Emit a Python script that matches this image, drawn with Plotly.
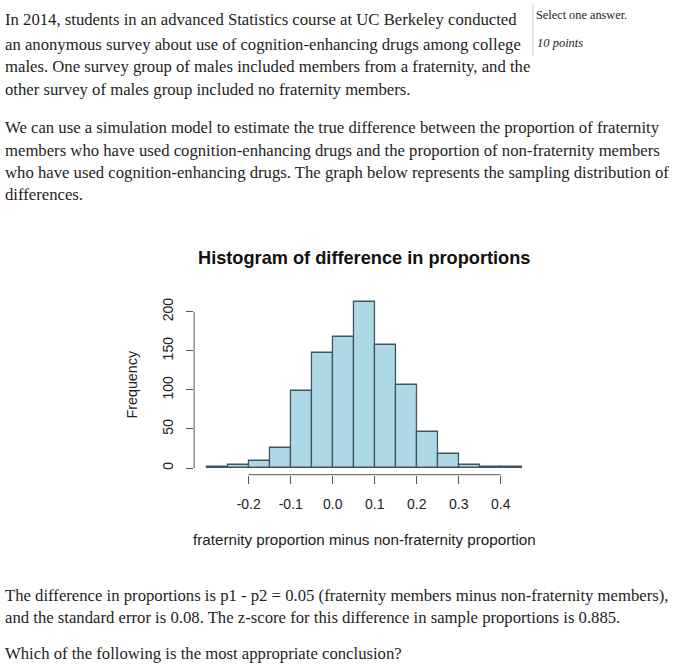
import plotly.graph_objects as go

W, H = 700, 670

# ---- data ----
bin_starts = [-0.30, -0.25, -0.20, -0.15, -0.10, -0.05, 0.00, 0.05,
              0.10, 0.15, 0.20, 0.25, 0.30, 0.35, 0.40]
bin_width = 0.05
counts = [1, 4, 9, 26, 99, 147, 168, 213, 157, 107, 46, 18, 4, 1, 1]
x_ticks = [-0.2, -0.1, 0.0, 0.1, 0.2, 0.3, 0.4]
x_tick_labels = ["-0.2", "-0.1", "0.0", "0.1", "0.2", "0.3", "0.4"]
y_ticks = [0, 50, 100, 150, 200]
y_tick_labels = ["0", "50", "100", "150", "200"]

title = "Histogram of difference in proportions"
x_label = "fraternity proportion minus non-fraternity proportion"
y_label = "Frequency"

para1 = [
    "In 2014, students in an advanced Statistics course at UC Berkeley conducted",
    "an anonymous survey about use of cognition-enhancing drugs among college",
    "males. One survey group of males included members from a fraternity, and the",
    "other survey of males group included no fraternity members.",
]
para2 = [
    "We can use a simulation model to estimate the true difference between the proportion of fraternity",
    "members who have used cognition-enhancing drugs and the proportion of non-fraternity members",
    "who have used cognition-enhancing drugs. The graph below represents the sampling distribution of",
    "differences.",
]
para3 = [
    "The difference in proportions is p1 - p2 = 0.05 (fraternity members minus non-fraternity members),",
    "and the standard error is 0.08. The z-score for this difference in sample proportions is 0.885.",
]
question = "Which of the following is the most appropriate conclusion?"
side1 = "Select one answer."
side2 = "10 points"

# ---- layout helpers (pixel -> paper) ----
def px(x):
    return x / W

def py(y):
    return 1 - y / H

SERIF = "Liberation Serif, Georgia, serif"
SANS = "Liberation Sans, Arial, sans-serif"
TXT = "#1e1e1e"

fig = go.Figure()
fig.add_trace(go.Bar(
    x=bin_starts, y=counts, width=bin_width, offset=0,
    marker=dict(color="#add8e6", line=dict(color="#44545f", width=1.3)),
    showlegend=False, hoverinfo="x+y",
))

span = bin_starts[-1] + bin_width - bin_starts[0]
xmin = bin_starts[0] - 0.04 * span
xmax = bin_starts[-1] + bin_width + 0.04 * span
ymax = max(counts)

fig.update_layout(
    width=W, height=H,
    margin=dict(l=0, r=0, t=0, b=0),
    paper_bgcolor="white", plot_bgcolor="white",
    bargap=0,
    xaxis=dict(
        domain=[px(194.1), px(534.3)], range=[xmin, xmax],
        showgrid=False, zeroline=False, showline=False,
        tickmode="array", tickvals=x_ticks, ticktext=x_tick_labels,
        ticks="outside", ticklen=8, tickcolor="#555", tickwidth=1,
        ticklabelstandoff=8,
        tickfont=dict(family=SANS, size=14, color="#222"),
    ),
    yaxis=dict(
        domain=[py(474.7), py(294.9)], range=[-0.04 * ymax, 1.04 * ymax],
        showgrid=False, zeroline=False, showline=False,
        tickmode="array", tickvals=y_ticks, ticktext=y_tick_labels,
        ticks="outside", ticklen=7, tickcolor="#555", tickwidth=1,
        tickangle=-90, ticklabelstandoff=8,
        tickfont=dict(family=SANS, size=14, color="#222"),
    ),
)

# axis lines spanning the tick range (R style)
fig.add_shape(type="line", xref="x", yref="y domain",
              x0=min(x_ticks), x1=max(x_ticks), y0=0, y1=0,
              line=dict(color="#555", width=1))
fig.add_shape(type="line", xref="x domain", yref="y",
              x0=0, x1=0, y0=min(y_ticks), y1=max(y_ticks),
              line=dict(color="#555", width=1))

ann = []
ann.append(dict(text="<b>" + title + "</b>", x=px(364), y=py(258), xref="paper", yref="paper",
                xanchor="center", yanchor="middle", showarrow=False,
                font=dict(family=SANS, size=18.2, color="#111")))
ann.append(dict(text=x_label, x=px(364), y=py(539), xref="paper", yref="paper",
                xanchor="center", yanchor="middle", showarrow=False,
                font=dict(family=SANS, size=15.2, color="#222")))
ann.append(dict(text=y_label, x=px(131.5), y=py(385), xref="paper", yref="paper",
                xanchor="center", yanchor="middle", showarrow=False, textangle=-90,
                font=dict(family=SANS, size=14.3, color="#222")))

def add_lines(lines, ys, size=16.7, x0=3):
    for t, yy in zip(lines, ys):
        ann.append(dict(text=t, x=px(x0), y=py(yy), xref="paper", yref="paper",
                        xanchor="left", yanchor="middle", showarrow=False,
                        font=dict(family=SERIF, size=size, color=TXT)))

add_lines(para1, [20, 44, 67, 90])
add_lines(para2, [127, 150, 172, 194])
add_lines(para3, [595, 617])
add_lines([question], [653])

ann.append(dict(text=side1, x=px(534), y=py(15), xref="paper", yref="paper",
                xanchor="left", yanchor="middle", showarrow=False,
                font=dict(family=SERIF, size=12.3, color=TXT)))
ann.append(dict(text="<i>" + side2 + "</i>", x=px(535), y=py(43), xref="paper", yref="paper",
                xanchor="left", yanchor="middle", showarrow=False,
                font=dict(family=SERIF, size=12.5, color=TXT)))
fig.add_shape(type="line", xref="paper", yref="paper",
              x0=px(533), x1=px(533), y0=py(4), y1=py(56),
              line=dict(color="#cccccc", width=1))

fig.update_layout(annotations=ann)
fig.write_html("out.html", config={"displayModeBar": False},
               post_script="document.body.style.margin='0';")
